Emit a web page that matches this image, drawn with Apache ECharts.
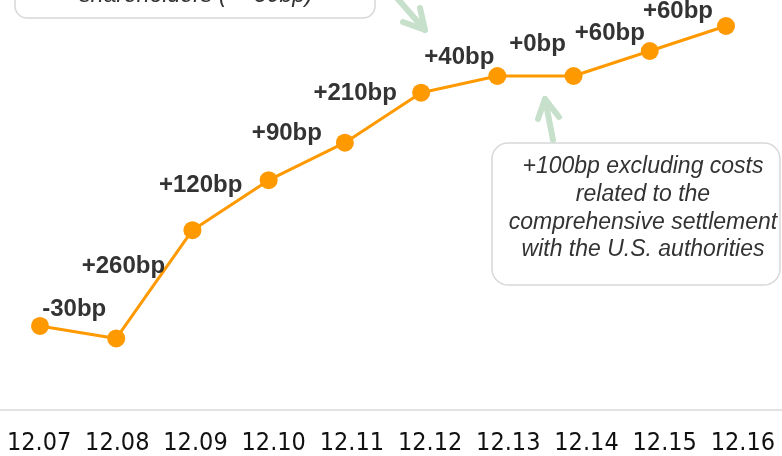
<!DOCTYPE html>
<html>
<head>
<meta charset="utf-8">
<script src="https://cdn.jsdelivr.net/npm/echarts@6/dist/echarts.min.js"></script>
<style>
  html, body { margin: 0; padding: 0; background: #fff; }
  #chart { width: 782px; height: 456px; }
</style>
</head>
<body>
<div id="chart"></div>
<script>
// Year-end dates (Dec. 2007 ... Dec. 2016)
const categories = ['12.07', '12.08', '12.09', '12.10', '12.11', '12.12', '12.13', '12.14', '12.15', '12.16'];

// Common equity Tier 1 ratio, in %
const cet1Ratio = [4.3, 4.0, 6.6, 7.8, 8.7, 9.9, 10.3, 10.3, 10.9, 11.5];

// Year-on-year change shown next to the closing point of each year
const changeLabels = [null, '-30bp', '+260bp', '+120bp', '+90bp', '+210bp', '+40bp', '+0bp', '+60bp', '+60bp'];

// Label centre relative to the centre of its point (px)
const labelOffsets = [null, [-42, -29], [-69, 36], [-68, 5], [-58, -9], [-66, 1], [-38, -19], [-36, -32], [-40, -18], [-48, -15]];

const ORANGE = '#FF9900';
const TEXT = '#333333';
const ARROW = '#c6e0cb';
const BOX = '#d8d8d8';
const SYMBOL = 18;

const seriesData = cet1Ratio.map((v, i) => {
  if (!changeLabels[i]) return { value: v, label: { show: false } };
  const [dx, dy] = labelOffsets[i];
  return {
    value: v,
    label: {
      show: true,
      formatter: changeLabels[i],
      position: [SYMBOL / 2 + dx, SYMBOL / 2 + dy]
    }
  };
});

const chart = echarts.init(document.getElementById('chart'), null, { renderer: 'canvas' });

chart.setOption({
  animation: false,
  backgroundColor: '#ffffff',
  grid: [
    // date axis, spanning the full width
    { left: -3.67, right: -7.67, top: 0, bottom: 45 },
    // ratio line
    { left: 40, right: 56, top: 5.17, bottom: 34.2 }
  ],
  xAxis: [
    {
      gridIndex: 0,
      type: 'category',
      data: categories,
      boundaryGap: true,
      axisLine: { show: true, lineStyle: { color: '#e2e2e2', width: 2 } },
      axisTick: { show: false },
      splitLine: { show: false },
      axisLabel: {
        interval: 0,
        margin: 21,
        fontFamily: '"Liberation Sans Narrow", "DejaVu Sans Condensed", sans-serif',
        fontSize: 25,
        color: '#111111'
      }
    },
    {
      gridIndex: 1,
      type: 'category',
      data: categories,
      boundaryGap: false,
      show: false
    }
  ],
  yAxis: [
    { gridIndex: 0, type: 'value', show: false, min: 0, max: 1 },
    { gridIndex: 1, type: 'value', show: false, min: 2, max: 12 }
  ],
  series: [
    {
      type: 'line',
      xAxisIndex: 1,
      yAxisIndex: 1,
      data: seriesData,
      symbol: 'circle',
      symbolSize: SYMBOL,
      showAllSymbol: true,
      lineStyle: { color: ORANGE, width: 3 },
      itemStyle: { color: ORANGE },
      label: {
        align: 'center',
        verticalAlign: 'middle',
        fontFamily: '"Liberation Sans", Arial, sans-serif',
        fontWeight: 'bold',
        fontSize: 24,
        color: TEXT
      },
      labelLayout: { hideOverlap: false },
      z: 3
    }
  ],
  graphic: [
    // note box, upper left
    {
      type: 'rect',
      shape: { x: 15, y: -40, width: 360, height: 58, r: 12 },
      style: { fill: '#ffffff', stroke: BOX, lineWidth: 1.5 },
      z: 1
    },
    {
      type: 'text',
      x: 196,
      y: 7,
      style: {
        text: 'shareholders (~ -30bp)',
        align: 'center',
        verticalAlign: 'bottom',
        fontFamily: '"Liberation Sans", Arial, sans-serif',
        fontStyle: 'italic',
        fontSize: 23,
        fill: TEXT
      },
      z: 2
    },
    // arrow towards 12.12
    {
      type: 'polyline',
      shape: { points: [[397, -2], [425, 30]] },
      style: { stroke: ARROW, lineWidth: 6, lineCap: 'round', fill: null },
      z: 1
    },
    {
      type: 'polyline',
      shape: { points: [[420, 8], [425, 30], [403, 22]] },
      style: { stroke: ARROW, lineWidth: 6, lineCap: 'round', lineJoin: 'round', fill: null },
      z: 1
    },
    // note box, lower right
    {
      type: 'rect',
      shape: { x: 492, y: 143, width: 288, height: 142, r: 16 },
      style: { fill: '#ffffff', stroke: BOX, lineWidth: 1.5 },
      z: 1
    },
    {
      type: 'text',
      x: 643,
      y: 208.5,
      style: {
        text: '+100bp excluding costs\nrelated to the\ncomprehensive settlement\nwith the U.S. authorities',
        align: 'center',
        verticalAlign: 'middle',
        lineHeight: 27.7,
        fontFamily: '"Liberation Sans", Arial, sans-serif',
        fontStyle: 'italic',
        fontSize: 23,
        fill: TEXT
      },
      z: 2
    },
    // arrow towards 12.13 - 12.14
    {
      type: 'polyline',
      shape: { points: [[553, 140], [545, 99]] },
      style: { stroke: ARROW, lineWidth: 6, lineCap: 'round', fill: null },
      z: 1
    },
    {
      type: 'polyline',
      shape: { points: [[538, 119], [545, 99], [559, 117]] },
      style: { stroke: ARROW, lineWidth: 6, lineCap: 'round', lineJoin: 'round', fill: null },
      z: 1
    }
  ]
});
</script>
</body>
</html>
